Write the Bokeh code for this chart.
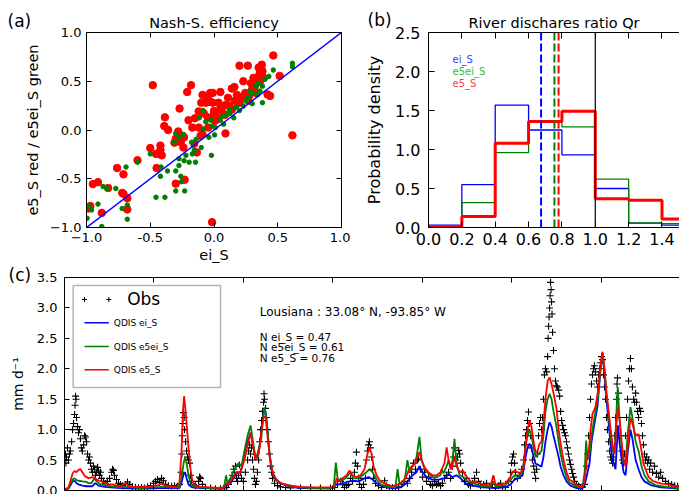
from bokeh.plotting import figure
from bokeh.layouts import row, column
from bokeh.models import (LinearAxis, FixedTicker, Label, Span, BoxAnnotation,
                          NumeralTickFormatter, Range1d, GridBox)
from bokeh.embed import file_html
from bokeh.resources import INLINE

FONT = "DejaVu Sans"

# ---------------- (a) Nash-Sutcliffe efficiency scatter ----------------
ns_ei_red = [-0.48, -0.18, -0.21, -0.27, -0.385, -0.39, -0.36, -0.03, -0.10, -0.065,
             -0.03, -0.12, -0.08, -0.05, -0.17, -0.235, -0.26, -0.24, -0.30, -0.31,
             -0.42, -0.42, -0.41, -0.455, -0.50, -0.60, -0.45, -0.76, -0.71, -0.72,
             -0.71, -0.68, -0.68, -0.95, -0.91, -0.985, -0.97, -0.88, -0.30, -0.23,
             -0.015, -0.135, -0.155, -0.28, -0.12, -0.09, -0.105, -0.045, -0.005, -0.01,
             -0.83, -0.15, -0.20, -0.05, -0.09,
             0.465, 0.20, 0.265, 0.35, 0.375, 0.36, 0.31, 0.515, 0.23, 0.29,
             0.16, 0.14, 0.32, 0.245, 0.275, 0.42, 0.44, 0.05, -0.01, 0.11,
             0.165, 0.035, 0.09, 0.0, 0.06, 0.14, 0.025, 0.085, 0.01, 0.09,
             0.615, 0.36, 0.335, 0.39, 0.375, 0.38, 0.355, 0.30, 0.27, 0.20,
             0.22, 0.12, 0.33, 0.18, 0.05, 0.0]
ns_e5_red = [0.46, 0.46, 0.39, 0.22, 0.13, 0.04, 0.0, 0.38, 0.28, 0.28,
             0.29, 0.19, 0.17, 0.13, 0.025, -0.075, -0.125, -0.18, -0.09, -0.13,
             -0.16, -0.205, -0.26, -0.245, -0.185, -0.31, -0.39, -0.39, -0.455, -0.645,
             -0.655, -0.70, -0.815, -0.555, -0.535, -0.805, -0.78, -0.85, -0.55, -0.51,
             -0.945, -0.23, -0.14, -0.015, 0.025, -0.045, -0.06, 0.025, 0.125, 0.28,
             -0.595, 0.12, 0.10, 0.33, 0.36,
             0.765, 0.66, 0.66, 0.64, 0.615, 0.585, 0.535, 0.555, 0.50, 0.48,
             0.44, 0.425, 0.45, 0.38, 0.35, 0.365, 0.35, 0.39, 0.38, 0.33,
             0.30, 0.28, 0.255, 0.195, 0.195, 0.21, 0.125, 0.155, 0.095, -0.035,
             -0.055, 0.50, 0.535, 0.535, 0.67, 0.60, 0.56, 0.42, 0.30, 0.28,
             0.33, 0.25, 0.38, 0.36, 0.22, 0.16]

ns_ei_green = [-0.69, -0.77, -0.87, -0.91, -0.995, -0.88, -0.68, -0.68, -0.72, -0.84,
               -0.60, -0.50, -0.455, -0.385, -0.42, -0.415, -0.365, -0.30, -0.23, -0.26,
               -0.30, -0.275, -0.235, -0.195, -0.275, -0.22, -0.145, -0.17, -0.31, -0.24,
               -0.275, -0.175, -0.14, -0.10, -0.155, -0.085, -0.04, -0.015, -0.02, -0.115,
               -0.065, -0.025, -0.085, -0.30, -0.255, -0.985, -0.96,
               0.465, 0.615, 0.615, 0.38, 0.30, 0.23, 0.175, 0.155, 0.125, 0.07,
               0.075, 0.01, 0.005, 0.35, 0.36, 0.27, 0.165, 0.10, 0.33, 0.38,
               0.30, 0.25, 0.20, 0.05, 0.40, 0.28, 0.12, 0.43, 0.34]
ns_e5ei_green = [-0.38, -0.60, -0.58, -0.76, -0.905, -0.99, -0.77, -0.915, -0.805, -0.60,
                 -0.33, -0.245, -0.69, -0.69, -0.475, -0.38, -0.42, -0.625, -0.625, -0.475,
                 -0.42, -0.365, -0.315, -0.33, -0.295, -0.26, -0.33, -0.245, -0.125, -0.045,
                 -0.075, -0.125, -0.095, -0.18, -0.205, 0.01, -0.075, 0.04, -0.26, 0.125,
                 0.085, 0.10, 0.20, -0.035, -0.53, -0.78, -0.82,
                 0.615, 0.685, 0.65, 0.28, 0.27, 0.245, 0.235, 0.125, 0.17, 0.145,
                 0.06, 0.025, -0.05, 0.48, 0.40, 0.33, 0.23, 0.16, 0.45, 0.45,
                 0.38, 0.30, 0.20, 0.10, 0.52, 0.40, 0.20, 0.55, 0.36]

# ---------------- (b) river discharge ratio histograms ----------------
qr_edges = [0.0, 0.2, 0.4, 0.6, 0.8, 1.0, 1.2, 1.4, 1.6]
qr_ei = [0.03, 0.55, 1.57, 1.25, 0.93, 0.50, 0.055, 0.03]
qr_e5ei = [0.01, 0.32, 0.96, 1.36, 1.29, 0.62, 0.06, 0.05]
qr_e5 = [0.01, 0.14, 1.08, 1.36, 1.49, 0.37, 0.35, 0.11]
qr_mean = {"ei_S": 0.675, "e5ei_S": 0.755, "e5_S": 0.78}

# ---------------- (c) daily discharge, Louisiana station ----------------
DAY_MAX = 2509
Q_MAX = 3.5

red_day = [0, 8, 16, 24, 33, 41, 49, 57, 65, 73,
           82, 90, 98, 106, 118, 131, 143, 155, 167, 180,
           196, 212, 228, 249, 261, 277, 310, 351, 384, 400,
           408, 432, 457, 469, 477, 483, 488, 494, 500, 506,
           514, 522, 534, 555, 596, 636, 653, 661, 669, 685,
           702, 718, 734, 747, 759, 771, 779, 787, 796, 804,
           812, 820, 828, 836, 845, 853, 865, 881, 922, 963,
           1024, 1085, 1102, 1110, 1118, 1134, 1151, 1163, 1175, 1191,
           1208, 1224, 1236, 1244, 1253, 1261, 1273, 1289, 1314, 1338,
           1363, 1379, 1391, 1404, 1416, 1428, 1440, 1448, 1457, 1469,
           1485, 1501, 1518, 1534, 1550, 1559, 1567, 1579, 1591, 1599,
           1612, 1624, 1636, 1656, 1681, 1705, 1738, 1750, 1758, 1779,
           1799, 1816, 1828, 1836, 1848, 1860, 1873, 1881, 1889, 1897,
           1905, 1914, 1922, 1930, 1938, 1946, 1954, 1962, 1971, 1979,
           1987, 1995, 2007, 2016, 2024, 2036, 2048, 2060, 2077, 2097,
           2113, 2122, 2130, 2138, 2146, 2154, 2166, 2179, 2187, 2195,
           2203, 2211, 2220, 2228, 2236, 2244, 2252, 2258, 2264, 2273,
           2281, 2289, 2297, 2309, 2317, 2326, 2334, 2342, 2350, 2362,
           2375, 2383, 2399, 2419, 2440, 2460, 2481, 2509]
red_q = [0.03, 0.03, 0.05, 0.15, 0.28, 0.32, 0.30, 0.34, 0.35, 0.30,
         0.24, 0.22, 0.20, 0.21, 0.22, 0.18, 0.16, 0.14, 0.12, 0.10,
         0.10, 0.08, 0.07, 0.12, 0.08, 0.06, 0.06, 0.07, 0.09, 0.12,
         0.09, 0.07, 0.06, 0.12, 0.60, 1.30, 1.55, 1.30, 1.00, 0.70,
         0.35, 0.15, 0.08, 0.06, 0.05, 0.04, 0.06, 0.12, 0.10, 0.20,
         0.30, 0.30, 0.50, 0.75, 0.95, 0.70, 0.50, 0.55, 0.70, 1.00,
         1.20, 1.22, 0.90, 0.60, 0.37, 0.25, 0.18, 0.12, 0.08, 0.06,
         0.05, 0.05, 0.06, 0.20, 0.15, 0.20, 0.25, 0.33, 0.25, 0.22,
         0.25, 0.35, 0.60, 0.71, 0.60, 0.40, 0.25, 0.15, 0.10, 0.07,
         0.10, 0.15, 0.20, 0.33, 0.40, 0.43, 0.55, 0.63, 0.50, 0.38,
         0.30, 0.25, 0.25, 0.30, 0.45, 0.71, 0.50, 0.35, 0.56, 0.40,
         0.30, 0.33, 0.25, 0.15, 0.14, 0.10, 0.08, 0.25, 0.10, 0.10,
         0.12, 0.20, 0.30, 0.33, 0.30, 0.28, 0.40, 0.70, 1.00, 1.15,
         1.05, 0.80, 0.63, 0.65, 0.77, 0.80, 1.10, 1.50, 1.80, 1.86,
         1.75, 1.60, 1.35, 1.00, 0.77, 0.50, 0.30, 0.18, 0.13, 0.07,
         0.06, 0.15, 0.50, 0.60, 1.00, 1.26, 1.37, 1.70, 2.10, 2.28,
         2.00, 1.60, 1.30, 1.00, 0.75, 0.60, 1.10, 1.37, 1.20, 0.80,
         0.50, 0.40, 0.70, 1.20, 1.10, 0.95, 0.90, 0.93, 0.75, 0.44,
         0.30, 0.22, 0.16, 0.13, 0.11, 0.10, 0.08, 0.07]

green_day = [0, 16, 24, 33, 41, 49, 57, 73, 90, 98,
             110, 122, 131, 143, 163, 188, 228, 261, 310, 351,
             392, 408, 432, 469, 477, 486, 492, 498, 506, 514,
             530, 555, 596, 645, 653, 659, 665, 677, 694, 710,
             722, 734, 747, 759, 771, 779, 787, 796, 803, 808,
             816, 824, 832, 840, 849, 861, 881, 922, 963, 1024,
             1098, 1107, 1114, 1126, 1146, 1167, 1179, 1200, 1216, 1232,
             1244, 1257, 1273, 1289, 1322, 1350, 1359, 1367, 1383, 1391,
             1399, 1408, 1420, 1432, 1440, 1448, 1457, 1469, 1485, 1501,
             1518, 1534, 1538, 1546, 1559, 1567, 1575, 1583, 1591, 1599,
             1612, 1628, 1644, 1665, 1697, 1738, 1750, 1758, 1799, 1820,
             1836, 1852, 1865, 1873, 1881, 1889, 1897, 1905, 1914, 1922,
             1934, 1946, 1954, 1962, 1971, 1979, 1987, 1995, 2007, 2016,
             2024, 2036, 2048, 2060, 2077, 2097, 2113, 2122, 2128, 2134,
             2142, 2150, 2162, 2175, 2187, 2195, 2203, 2211, 2220, 2228,
             2236, 2244, 2252, 2257, 2264, 2273, 2281, 2289, 2297, 2309,
             2317, 2330, 2342, 2354, 2366, 2383, 2411, 2452, 2509]
green_q = [0.02, 0.04, 0.10, 0.18, 0.20, 0.17, 0.16, 0.15, 0.14, 0.12,
           0.12, 0.20, 0.15, 0.11, 0.09, 0.07, 0.05, 0.06, 0.04, 0.05,
           0.06, 0.07, 0.05, 0.05, 0.20, 0.45, 0.55, 0.45, 0.25, 0.12,
           0.06, 0.05, 0.04, 0.04, 0.10, 0.25, 0.12, 0.20, 0.35, 0.45,
           0.40, 0.65, 0.90, 1.07, 0.75, 0.55, 0.60, 0.75, 0.85, 1.10,
           1.36, 1.20, 0.80, 0.50, 0.30, 0.20, 0.12, 0.07, 0.05, 0.04,
           0.04, 0.46, 0.20, 0.15, 0.20, 0.30, 0.20, 0.20, 0.25, 0.30,
           0.35, 0.30, 0.18, 0.10, 0.06, 0.05, 0.35, 0.10, 0.12, 0.25,
           0.50, 0.30, 0.40, 0.45, 0.65, 0.88, 0.50, 0.35, 0.28, 0.22,
           0.22, 0.25, 0.35, 0.28, 0.40, 0.50, 0.35, 0.50, 0.85, 0.45,
           0.25, 0.22, 0.15, 0.12, 0.08, 0.06, 0.15, 0.07, 0.09, 0.18,
           0.25, 0.22, 0.28, 0.45, 0.75, 0.90, 1.00, 0.90, 0.70, 0.55,
           0.60, 0.65, 0.90, 1.30, 1.50, 1.59, 1.50, 1.30, 1.05, 0.80,
           0.60, 0.38, 0.22, 0.13, 0.09, 0.05, 0.05, 0.30, 0.82, 0.50,
           0.60, 0.90, 1.20, 1.50, 2.00, 2.25, 2.00, 1.60, 1.25, 0.90,
           0.65, 0.60, 1.30, 1.70, 1.20, 0.70, 0.45, 0.45, 0.90, 1.37,
           1.20, 0.80, 0.65, 0.40, 0.25, 0.15, 0.09, 0.06, 0.04]

blue_day = [0, 16, 24, 33, 41, 49, 57, 73, 90, 98,
            114, 126, 139, 163, 188, 228, 310, 392, 469, 477,
            486, 492, 498, 506, 522, 555, 645, 661, 677, 702,
            718, 734, 747, 759, 771, 779, 792, 804, 812, 820,
            828, 836, 845, 857, 873, 922, 963, 1085, 1110, 1126,
            1151, 1175, 1200, 1224, 1240, 1257, 1273, 1297, 1338, 1371,
            1395, 1420, 1436, 1448, 1461, 1477, 1501, 1526, 1550, 1567,
            1583, 1599, 1616, 1636, 1665, 1705, 1758, 1799, 1820, 1836,
            1852, 1869, 1881, 1889, 1897, 1905, 1914, 1922, 1934, 1946,
            1954, 1962, 1971, 1979, 1987, 1995, 2007, 2016, 2024, 2036,
            2048, 2064, 2089, 2113, 2126, 2134, 2142, 2150, 2162, 2175,
            2187, 2195, 2203, 2211, 2220, 2228, 2236, 2248, 2258, 2264,
            2273, 2281, 2289, 2297, 2309, 2317, 2330, 2342, 2354, 2366,
            2391, 2432, 2509]
blue_q = [0.02, 0.03, 0.08, 0.15, 0.16, 0.12, 0.10, 0.08, 0.07, 0.07,
          0.07, 0.12, 0.08, 0.06, 0.05, 0.04, 0.03, 0.04, 0.04, 0.12,
          0.27, 0.30, 0.20, 0.10, 0.05, 0.04, 0.03, 0.08, 0.12, 0.28,
          0.30, 0.55, 0.80, 0.95, 0.70, 0.50, 0.60, 1.00, 1.30, 1.30,
          1.00, 0.60, 0.35, 0.20, 0.13, 0.06, 0.04, 0.03, 0.10, 0.10,
          0.14, 0.16, 0.15, 0.20, 0.22, 0.18, 0.12, 0.07, 0.04, 0.05,
          0.12, 0.25, 0.30, 0.40, 0.30, 0.22, 0.18, 0.18, 0.20, 0.27,
          0.22, 0.25, 0.20, 0.12, 0.08, 0.05, 0.04, 0.05, 0.10, 0.18,
          0.20, 0.25, 0.55, 0.70, 0.77, 0.70, 0.55, 0.44, 0.42, 0.39,
          0.55, 0.80, 1.00, 1.12, 1.05, 0.90, 0.70, 0.55, 0.39, 0.25,
          0.15, 0.08, 0.04, 0.03, 0.15, 0.30, 0.45, 0.80, 1.10, 1.40,
          2.00, 2.25, 1.90, 1.50, 1.10, 0.75, 0.50, 0.35, 1.07, 0.80,
          0.50, 0.30, 0.25, 0.60, 1.00, 0.85, 0.50, 0.35, 0.22, 0.15,
          0.09, 0.05, 0.03]

obs_day = [2, 4, 6, 8, 12, 16, 20, 24, 29, 33,
           37, 41, 43, 45, 47, 49, 53, 57, 61, 65,
           69, 73, 78, 82, 86, 90, 94, 98, 102, 106,
           110, 114, 118, 122, 126, 131, 135, 139, 143, 147,
           151, 159, 167, 175, 184, 192, 196, 200, 204, 212,
           220, 228, 237, 249, 257, 265, 277, 290, 302, 314,
           326, 339, 351, 363, 371, 379, 388, 396, 404, 412,
           424, 437, 449, 461, 469, 475, 479, 481, 483, 486,
           488, 490, 494, 498, 502, 506, 510, 514, 518, 526,
           534, 547, 551, 555, 563, 575, 596, 616, 636, 653,
           661, 669, 677, 685, 690, 694, 698, 702, 706, 710,
           714, 718, 722, 730, 738, 747, 751, 755, 759, 763,
           767, 771, 775, 779, 783, 787, 792, 796, 800, 804,
           808, 812, 814, 816, 820, 824, 828, 832, 836, 840,
           845, 849, 857, 869, 881, 902, 922, 963, 1004, 1044,
           1085, 1102, 1114, 1126, 1134, 1142, 1151, 1159, 1167, 1175,
           1183, 1187, 1191, 1195, 1200, 1204, 1212, 1220, 1228, 1232,
           1236, 1240, 1244, 1248, 1253, 1257, 1261, 1269, 1281, 1293,
           1306, 1314, 1326, 1338, 1350, 1363, 1375, 1387, 1399, 1408,
           1416, 1424, 1432, 1440, 1444, 1452, 1461, 1469, 1477, 1485,
           1493, 1501, 1510, 1518, 1526, 1534, 1542, 1550, 1559, 1567,
           1575, 1583, 1587, 1591, 1595, 1603, 1608, 1612, 1616, 1624,
           1632, 1640, 1648, 1656, 1665, 1673, 1681, 1689, 1697, 1710,
           1722, 1734, 1746, 1758, 1771, 1779, 1787, 1799, 1812, 1820,
           1824, 1828, 1832, 1836, 1840, 1848, 1856, 1865, 1873, 1877,
           1881, 1885, 1889, 1893, 1897, 1901, 1905, 1909, 1914, 1918,
           1922, 1926, 1930, 1934, 1938, 1942, 1946, 1950, 1954, 1958,
           1962, 1967, 1971, 1973, 1975, 1977, 1979, 1981, 1983, 1985,
           1987, 1989, 1991, 1995, 1999, 2003, 2007, 2011, 2016, 2020,
           2024, 2028, 2032, 2036, 2040, 2044, 2048, 2052, 2056, 2060,
           2064, 2069, 2073, 2077, 2081, 2089, 2097, 2105, 2113, 2122,
           2130, 2134, 2138, 2142, 2146, 2150, 2154, 2158, 2162, 2166,
           2171, 2175, 2179, 2183, 2187, 2191, 2195, 2199, 2203, 2207,
           2211, 2215, 2220, 2224, 2228, 2232, 2236, 2240, 2244, 2248,
           2252, 2254, 2256, 2260, 2264, 2268, 2273, 2277, 2281, 2285,
           2289, 2293, 2297, 2301, 2305, 2309, 2313, 2317, 2322, 2326,
           2330, 2334, 2338, 2342, 2346, 2350, 2354, 2358, 2362, 2366,
           2370, 2375, 2379, 2383, 2387, 2391, 2399, 2407, 2415, 2424,
           2432, 2440, 2452, 2464, 2477, 2489, 2501]
obs_q = [0.50, 0.60, 0.45, 0.55, 0.70, 0.50, 0.60, 0.65, 0.80, 1.00,
         1.10, 1.25, 1.40, 1.55, 1.50, 1.20, 1.05, 0.95, 1.00, 0.85,
         0.70, 0.65, 0.75, 0.90, 0.88, 0.80, 0.60, 0.50, 0.55, 0.45,
         0.35, 0.30, 0.40, 0.35, 0.25, 0.30, 0.38, 0.32, 0.25, 0.30,
         0.20, 0.15, 0.12, 0.15, 0.20, 0.30, 0.35, 0.33, 0.25, 0.18,
         0.12, 0.10, 0.08, 0.10, 0.14, 0.10, 0.06, 0.05, 0.04, 0.05,
         0.04, 0.06, 0.08, 0.12, 0.15, 0.18, 0.13, 0.20, 0.16, 0.10,
         0.08, 0.07, 0.08, 0.07, 0.10, 0.30, 0.60, 0.90, 1.10, 1.28,
         1.20, 1.00, 0.80, 0.65, 0.55, 0.50, 0.45, 0.25, 0.15, 0.10,
         0.08, 0.15, 0.22, 0.20, 0.10, 0.05, 0.04, 0.03, 0.03, 0.04,
         0.05, 0.10, 0.15, 0.25, 0.35, 0.30, 0.40, 0.20, 0.15, 0.25,
         0.42, 0.30, 0.20, 0.15, 0.30, 0.50, 0.65, 0.75, 0.60, 0.70,
         0.50, 0.35, 0.20, 0.10, 0.15, 0.30, 0.50, 0.80, 1.00, 1.15,
         1.30, 1.45, 1.59, 1.50, 1.35, 1.20, 1.00, 0.80, 0.60, 0.40,
         0.30, 0.20, 0.12, 0.08, 0.06, 0.05, 0.04, 0.04, 0.05, 0.04,
         0.04, 0.05, 0.10, 0.15, 0.10, 0.05, 0.08, 0.10, 0.20, 0.15,
         0.30, 0.45, 0.63, 0.40, 0.20, 0.10, 0.05, 0.10, 0.20, 0.50,
         0.65, 0.75, 0.80, 0.70, 0.55, 0.35, 0.20, 0.12, 0.08, 0.05,
         0.16, 0.08, 0.04, 0.05, 0.04, 0.06, 0.10, 0.15, 0.12, 0.20,
         0.30, 0.45, 0.35, 0.50, 0.52, 0.35, 0.22, 0.30, 0.15, 0.22,
         0.10, 0.08, 0.15, 0.10, 0.12, 0.08, 0.12, 0.20, 0.25, 0.30,
         0.20, 0.40, 0.55, 0.70, 0.50, 0.55, 0.66, 0.60, 0.45, 0.30,
         0.15, 0.20, 0.10, 0.08, 0.12, 0.20, 0.30, 0.15, 0.08, 0.10,
         0.12, 0.06, 0.10, 0.05, 0.08, 0.12, 0.06, 0.05, 0.15, 0.30,
         0.45, 0.55, 0.60, 0.45, 0.30, 0.20, 0.25, 0.35, 0.50, 0.75,
         0.90, 1.00, 1.15, 1.29, 1.10, 0.90, 0.70, 0.50, 0.40, 0.30,
         0.20, 0.35, 0.60, 0.90, 1.10, 1.20, 1.00, 1.20, 1.50, 1.90,
         2.00, 1.95, 2.20, 2.50, 2.70, 2.85, 3.00, 3.20, 3.42, 3.30,
         3.10, 2.90, 2.60, 2.30, 2.00, 1.80, 1.72, 1.70, 1.65, 1.55,
         1.30, 1.15, 1.07, 1.00, 0.95, 0.90, 0.80, 0.70, 0.60, 0.50,
         0.43, 0.35, 0.28, 0.22, 0.15, 0.10, 0.07, 0.05, 0.06, 0.10,
         0.40, 0.60, 0.90, 1.20, 1.50, 1.75, 1.90, 2.00, 2.05, 1.95,
         1.80, 1.70, 1.90, 2.00, 2.10, 2.20, 2.15, 1.90, 1.70, 1.50,
         1.20, 1.00, 0.80, 0.65, 0.55, 0.50, 0.45, 0.55, 0.90, 1.20,
         1.50, 1.75, 1.85, 1.60, 1.20, 0.90, 0.65, 0.50, 0.45, 0.60,
         0.90, 1.20, 1.50, 1.80, 2.00, 2.17, 2.00, 1.70, 1.50, 1.45,
         1.60, 1.45, 1.30, 1.20, 1.35, 1.30, 1.10, 0.90, 0.75, 0.60,
         0.50, 0.55, 0.45, 0.50, 0.35, 0.45, 0.30, 0.40, 0.28, 0.22,
         0.30, 0.20, 0.15, 0.12, 0.10, 0.08, 0.07]

nash = {"ei_S": 0.47, "e5ei_S": 0.61, "e5_S": 0.76}
station = "Lousiana : 33.08° N, -93.85° W"
year_ticks = [365, 730, 1095, 1460, 1825, 2190]

BLUE, GREEN, RED = "#0000ff", "#008000", "#ff0000"
PAGE_W, PAGE_H = 679, 494


def base_style(p):
    p.grid.visible = False
    p.background_fill_color = "white"
    p.border_fill_color = "white"


def style_axis(ax, tick_px, tick_len, label_px=None):
    ax.major_tick_in = tick_len
    ax.major_tick_out = 0
    ax.minor_tick_line_color = None
    ax.axis_line_color = "black"
    ax.major_tick_line_color = "black"
    ax.major_label_text_font = FONT
    ax.major_label_text_font_size = f"{tick_px}px"
    ax.major_label_text_color = "black"
    ax.axis_label_text_font = FONT
    ax.axis_label_text_font_style = "normal"
    ax.axis_label_text_color = "black"
    if label_px:
        ax.axis_label_text_font_size = f"{label_px}px"


def mirror_axis(p, side, ticks, tick_len):
    ax = LinearAxis(ticker=FixedTicker(ticks=ticks),
                    major_label_text_font_size="0px",
                    major_label_text_color=None,
                    major_label_standoff=0,
                    major_tick_in=tick_len, major_tick_out=0,
                    minor_tick_line_color=None,
                    axis_line_color="black")
    p.add_layout(ax, side)


def text(p, x, y, s, size, dx=0, dy=0, color="black", align="left",
         baseline="middle"):
    p.add_layout(Label(x=x, y=y, x_offset=dx, y_offset=dy, text=s,
                       text_font=FONT, text_font_size=f"{size}px",
                       text_color=color, text_align=align,
                       text_baseline=baseline))


def set_title(p, s, size):
    p.title.text = s
    p.title.align = "center"
    p.title.text_font = FONT
    p.title.text_font_size = f"{size}px"
    p.title.text_font_style = "normal"
    p.title.text_color = "black"
    p.title.standoff = 4


# ======================= panel (a) =======================
ab_ticks = [-1.0, -0.5, 0.0, 0.5, 1.0]
pa = figure(width=350, height=265, x_range=Range1d(-1, 1), y_range=Range1d(-1, 1),
            min_border_left=86, min_border_right=9, min_border_top=32,
            min_border_bottom=35, toolbar_location=None, output_backend="svg")
base_style(pa)
pa.outline_line_color = "black"
for ax in (pa.xaxis[0], pa.yaxis[0]):
    style_axis(ax, 13, 5, 14.5)
    ax.ticker = FixedTicker(ticks=ab_ticks)
    ax.formatter = NumeralTickFormatter(format="0.0")
    ax.major_label_overrides = {-1: "\u22121.0"}
pa.xaxis.axis_label = "ei_S"
pa.xaxis.major_label_standoff = 5
pa.xaxis.axis_label_standoff = 2
pa.yaxis.axis_label = "e5_S red / e5ei_S green"
pa.yaxis.major_label_standoff = 5
pa.yaxis.axis_label_standoff = 6
mirror_axis(pa, "above", ab_ticks, 5)
mirror_axis(pa, "right", ab_ticks, 5)
set_title(pa, "Nash-S. efficiency", 14.5)

pa.scatter(ns_ei_red, ns_e5_red, size=7.5, color=RED, line_color=RED)
pa.scatter(ns_ei_green, ns_e5ei_green, size=4.5, color=GREEN, line_color=GREEN)
pa.line([-1, 1], [-1, 1], line_color=BLUE, line_width=1.5)

# ======================= panel (b) =======================
qr_xticks = [0.0, 0.2, 0.4, 0.6, 0.8, 1.0, 1.2, 1.4]
qr_yticks = [0.0, 0.5, 1.0, 1.5, 2.0, 2.5]
pb = figure(width=329, height=265, x_range=Range1d(0, 1.505), y_range=Range1d(0, 2.5),
            min_border_left=78, min_border_right=0, min_border_top=32,
            min_border_bottom=35, toolbar_location=None, output_backend="svg")
base_style(pb)
pb.outline_line_color = None
style_axis(pb.xaxis[0], 16, 6)
style_axis(pb.yaxis[0], 16, 6, 16)
pb.xaxis.ticker = FixedTicker(ticks=qr_xticks)
pb.yaxis.ticker = FixedTicker(ticks=qr_yticks)
pb.xaxis.formatter = NumeralTickFormatter(format="0.0")
pb.yaxis.formatter = NumeralTickFormatter(format="0.0")
pb.yaxis.axis_label = "Probability density"
pb.yaxis.major_label_standoff = 8
pb.yaxis.axis_label_standoff = 8
pb.xaxis.major_label_standoff = 5
mirror_axis(pb, "above", qr_xticks, 6)
set_title(pb, "River dischares ratio Qr", 14.5)


def step_outline(edges, heights):
    xs, ys = [edges[0]], [0.0]
    for i, h in enumerate(heights):
        xs += [edges[i], edges[i + 1]]
        ys += [h, h]
    xs.append(edges[-1])
    ys.append(0.0)
    return xs, ys


for vals, col, lw in ((qr_ei, BLUE, 1.3), (qr_e5ei, GREEN, 1.3), (qr_e5, RED, 3)):
    xs, ys = step_outline(qr_edges, vals)
    pb.line(xs, ys, line_color=col, line_width=lw)

for name, col in (("ei_S", BLUE), ("e5ei_S", GREEN), ("e5_S", RED)):
    pb.add_layout(Span(location=qr_mean[name], dimension="height", line_color=col,
                       line_width=2, line_dash="8 3"))
pb.add_layout(Span(location=1.0, dimension="height", line_color="black", line_width=1.2))

text(pb, 0, 2.5, "ei_S", 10, dx=24, dy=-26.5, color="#3c3cff")
text(pb, 0, 2.5, "e5ei_S", 10, dx=24, dy=-38.5, color="#2fbf2f")
text(pb, 0, 2.5, "e5_S", 10, dx=24, dy=-51, color="#ff3c3c")

# ======================= panel (c) =======================
PC_W, PC_H = 615, 213
pc = figure(width=679, height=229, x_range=Range1d(0, DAY_MAX), y_range=Range1d(0, Q_MAX),
            min_border_left=64, min_border_right=0, min_border_top=12,
            min_border_bottom=4, toolbar_location=None, output_backend="svg")
base_style(pc)
pc.outline_line_color = None
style_axis(pc.yaxis[0], 13, 5, 14)
pc.yaxis.ticker = FixedTicker(ticks=[0.0, 0.5, 1.0, 1.5, 2.0, 2.5, 3.0, 3.5])
pc.yaxis.formatter = NumeralTickFormatter(format="0.0")
pc.yaxis.axis_label = "mm d\u207b\u00b9"
pc.yaxis.major_label_standoff = 7
pc.yaxis.axis_label_standoff = 8
xa = pc.xaxis[0]
style_axis(xa, 0, 5)
xa.ticker = FixedTicker(ticks=year_ticks)
xa.major_label_text_font_size = "0px"
xa.major_label_text_color = None
xa.major_label_standoff = 0
mirror_axis(pc, "above", year_ticks, 5)

pc.scatter(obs_day, obs_q, marker="cross", size=7, line_color="black", line_width=1.1)
pc.line(blue_day, blue_q, line_color=BLUE, line_width=1.8)
pc.line(green_day, green_q, line_color=GREEN, line_width=1.8)
pc.line(red_day, red_q, line_color=RED, line_width=1.8)


def fx(off):
    # pixel offset from the frame's left edge -> day
    return DAY_MAX * off / PC_W


def fy(off):
    # pixel offset from the frame's top edge -> discharge
    return Q_MAX - Q_MAX * off / PC_H


# legend box, hand laid out
pc.add_layout(BoxAnnotation(left=fx(8.7), right=fx(156), top=fy(8), bottom=fy(110),
                            fill_color=None, line_color="black", line_width=1.5,
                            level="underlay"))
pc.scatter([fx(20), fx(44.3)], [fy(22), fy(22)], marker="cross", size=5,
           line_color="black", line_width=1)
text(pc, 0, Q_MAX, "Obs", 17, dx=62.7, dy=-21)
for off, col, lab in ((45.3, BLUE, "QDIS ei_S"), (69, GREEN, "QDIS e5ei_S"),
                      (92.3, RED, "QDIS e5_S")):
    pc.line([fx(20), fx(44.3)], [fy(off), fy(off)], line_color=col, line_width=1.5)
    text(pc, 0, Q_MAX, lab, 9, dx=49.3, dy=-off)

text(pc, 0, Q_MAX, station, 12, dx=195.3, dy=-34.7)
for off, name in ((59.7, "ei_S"), (69.7, "e5ei_S"), (80.3, "e5_S")):
    text(pc, 0, Q_MAX, f"N {name} = {nash[name]:.2f}", 10.5, dx=195.3, dy=-off)

# ============ transparent page-wide layer for the panel letters ============
# coordinates on this layer are page pixels, y measured downward
letters = figure(width=PAGE_W, height=PAGE_H, x_range=Range1d(0, PAGE_W),
                 y_range=Range1d(PAGE_H, 0), x_axis_type=None, y_axis_type=None,
                 min_border=0, toolbar_location=None, output_backend="svg")
letters.grid.visible = False
letters.outline_line_color = None
letters.background_fill_color = None
letters.border_fill_color = None
for s, x, y in (("(a)", 7, 20), ("(b)", 367, 19), ("(c)", 8, 274)):
    text(letters, x, y, s, 17, baseline="alphabetic")

panels = column(row(pa, pb), pc)
layout = GridBox(children=[(panels, 0, 0), (letters, 0, 0)])
open("out.html", "w").write(file_html(layout, INLINE))
